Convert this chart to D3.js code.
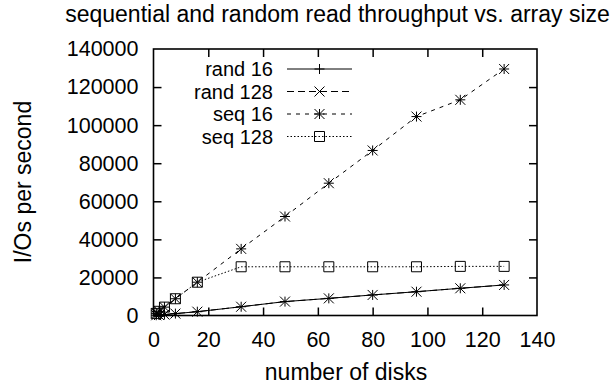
<!DOCTYPE html>
<html><head><meta charset="utf-8">
<script src="https://cdn.jsdelivr.net/npm/d3@7"></script>
<style>body{margin:0;background:#fff}svg{display:block}text{font-family:"Liberation Sans",Arial,sans-serif;fill:#000}</style>
</head><body>
<svg id="c" width="611" height="385"></svg>
<script>
const disks = [1, 2, 4, 8, 16, 32, 48, 64, 80, 96, 112, 128];
const rand16 = [125, 250, 500, 1000, 2000, 4600, 7300, 9000, 10800, 12500, 14300, 16050];
const rand128 = [125, 250, 500, 1000, 2000, 4600, 7300, 9000, 10800, 12500, 14300, 16050];
const seq16 = [1100, 2200, 4400, 8800, 17500, 35000, 52000, 69500, 86700, 104500, 113300, 129500];
const seq128 = [1100, 2200, 4400, 8800, 17500, 25600, 25600, 25600, 25600, 25600, 25800, 25800];
const xTicks = [0, 20, 40, 60, 80, 100, 120, 140];
const yTicks = [0, 20000, 40000, 60000, 80000, 100000, 120000, 140000];
const seriesNames = ["rand 16", "rand 128", "seq 16", "seq 128"];

const series = [
  {name: seriesNames[0], values: rand16, dash: null, marker: "plus"},
  {name: seriesNames[1], values: rand128, dash: "7,4", marker: "cross"},
  {name: seriesNames[2], values: seq16, dash: "4,5", marker: "star"},
  {name: seriesNames[3], values: seq128, dash: "1.5,2", marker: "square"}
];

const L = 153.5, R = 537, T = 49, B = 315.5;
const svg = d3.select("#c");
const x = d3.scaleLinear().domain([0, 140]).range([L, R]);
const y = d3.scaleLinear().domain([0, 140000]).range([B, T]);
const FS = 21.5, FL = 23, FG = 20;

// axes with mirrored inner ticks
const tk = 8;
const axB = svg.append("g").attr("transform", `translate(0,${B})`)
  .call(d3.axisBottom(x).tickValues(xTicks).tickSize(-tk).tickPadding(16).tickSizeOuter(0).tickFormat(d3.format("d")));
const axT = svg.append("g").attr("transform", `translate(0,${T})`)
  .call(d3.axisTop(x).tickValues(xTicks).tickSize(-tk).tickFormat("").tickSizeOuter(0));
const axL = svg.append("g").attr("transform", `translate(${L},0)`)
  .call(d3.axisLeft(y).tickValues(yTicks).tickSize(-tk).tickPadding(15).tickSizeOuter(0).tickFormat(d3.format("d")));
const axR = svg.append("g").attr("transform", `translate(${R},0)`)
  .call(d3.axisRight(y).tickValues(yTicks).tickSize(-tk).tickFormat("").tickSizeOuter(0));
[axB, axT, axL, axR].forEach(a => {
  a.select(".domain").remove();
  a.selectAll("line").attr("stroke", "#000").attr("stroke-width", 1.5);
  a.selectAll("text").attr("font-size", FS).attr("font-family", '"Liberation Sans",Arial,sans-serif').attr("fill", "#000");
});
// remove ticks at the frame corners
axB.selectAll(".tick").filter(d => d === 0 || d === 140).select("line").remove();
axT.selectAll(".tick").filter(d => d === 0 || d === 140).select("line").remove();
axL.selectAll(".tick").filter(d => d === 0 || d === 140000).select("line").remove();
axR.selectAll(".tick").filter(d => d === 0 || d === 140000).select("line").remove();

svg.append("rect").attr("x", L).attr("y", T).attr("width", R - L).attr("height", B - T)
  .attr("fill", "none").attr("stroke", "#000").attr("stroke-width", 1.6);

// markers
function drawMarker(g, type, cx, cy) {
  const s = 5;
  const p = d3.path();
  if (type === "plus" || type === "star") {
    p.moveTo(cx - s, cy); p.lineTo(cx + s, cy);
    p.moveTo(cx, cy - s); p.lineTo(cx, cy + s);
  }
  if (type === "cross" || type === "star") {
    p.moveTo(cx - s, cy - s); p.lineTo(cx + s, cy + s);
    p.moveTo(cx - s, cy + s); p.lineTo(cx + s, cy - s);
  }
  if (type === "square") {
    p.rect(cx - s, cy - s, 2 * s, 2 * s);
  }
  g.append("path").attr("d", p.toString()).attr("fill", "none").attr("stroke", "#000").attr("stroke-width", 1);
}

const line = d3.line().x(d => x(d[0])).y(d => y(d[1]));
series.forEach(s => {
  const pts = disks.map((d, i) => [d, s.values[i]]);
  const g = svg.append("g");
  g.append("path").attr("d", line(pts)).attr("fill", "none").attr("stroke", "#000")
    .attr("stroke-width", 1).attr("stroke-dasharray", s.dash);
  pts.forEach(p => drawMarker(g, s.marker, x(p[0]), y(p[1])));
});

// legend
const lg = svg.append("g");
series.forEach((s, i) => {
  const cy = 69 + i * 22.5;
  lg.append("text").attr("x", 273).attr("y", cy).attr("dy", "0.35em")
    .attr("text-anchor", "end").attr("font-size", FG).text(s.name);
  lg.append("line").attr("x1", 287).attr("x2", 352).attr("y1", cy).attr("y2", cy)
    .attr("stroke", "#000").attr("stroke-width", 1).attr("stroke-dasharray", s.dash);
  drawMarker(lg, s.marker, 319.5, cy);
});

// title and labels
svg.append("text").attr("x", 337.5).attr("y", 22).attr("text-anchor", "middle")
  .attr("font-size", FL).text("sequential and random read throughput vs. array size");
svg.append("text").attr("x", 346).attr("y", 380).attr("text-anchor", "middle")
  .attr("font-size", FL).text("number of disks");
svg.append("text").attr("transform", "translate(31,182) rotate(-90)").attr("text-anchor", "middle")
  .attr("font-size", FL).text("I/Os per second");
</script>
</body></html>
